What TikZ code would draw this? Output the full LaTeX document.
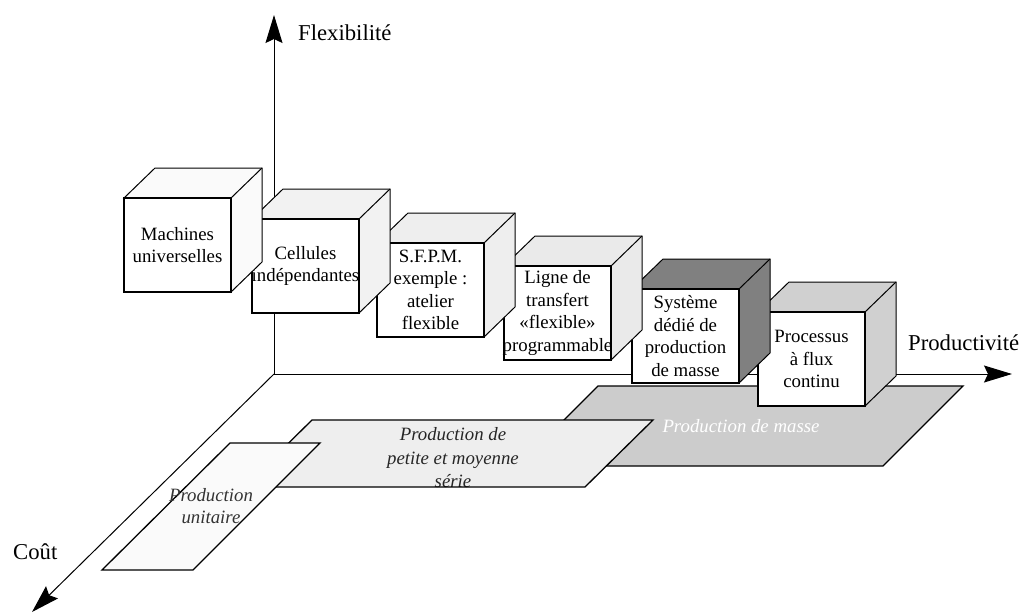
\documentclass[tikz,border=0pt]{standalone}
\usepackage{fontspec}
\setmainfont{Liberation Serif}
\usetikzlibrary{arrows.meta}

\definecolor{topA}{HTML}{FAFAFA}
\definecolor{topB}{HTML}{F2F2F2}
\definecolor{topC}{HTML}{EEEEEE}
\definecolor{topD}{HTML}{EAEAEA}
\definecolor{topE}{HTML}{808080}
\definecolor{topF}{HTML}{D0D0D0}
\definecolor{zoneA}{HTML}{FAFAFA}
\definecolor{zoneB}{HTML}{EEEEEE}
\definecolor{zoneC}{HTML}{CCCCCC}

% one box: front face top-left at (#2,#3), fill of top and side #4, text #5
\newcommand\drawbox[5]{%
  \coordinate (#1-nw) at (#2,#3);
  \coordinate (#1-ne) at (#2+107,#3);
  \coordinate (#1-se) at (#2+107,#3+94);
  \filldraw[face,fill=#4] (#1-nw) -- ++(31,-30) -- ++(107,0) -- ++(0,94)
     -- (#1-se) -- (#1-ne) -- cycle;
  \draw[face] (#1-ne) -- ++(31,-30);
  \node[front,anchor=north west] (#1) at (#1-nw) {};
  \node[boxtext] (#1-t) at (#1.center) {#5};
}

\begin{document}
\begin{tikzpicture}[x=1pt,y=-1pt,
  axis/.style={line width=1pt,-{Stealth[length=28pt,width=17pt,inset=4pt]}},
  face/.style={line width=1pt,line join=miter},
  front/.style={draw,fill=white,line width=2pt,minimum width=107pt,
    minimum height=94pt,inner sep=0pt,outer sep=0pt},
  boxtext/.style={align=center,inner sep=0pt,font=\fontsize{18.8}{22.5}\selectfont},
  zone/.style={line width=1.3pt,line join=miter},
  zonetext/.style={align=center,inner sep=0pt,font=\fontsize{18.8}{23.5}\selectfont\itshape},
  axislabel/.style={anchor=west,inner sep=0pt,font=\fontsize{22.7}{26}\selectfont}]

\useasboundingbox (0,0) rectangle (1021,614);

% axes
\coordinate (O) at (274,374);
\coordinate (flexTip) at (274,15);
\coordinate (prodTip) at (1012,374);
\coordinate (coutTip) at (32,612);
\draw[axis] (O) -- (flexTip);
\draw[axis] (O) -- (prodTip);
\draw[axis] (O) -- (coutTip);
\node[axislabel] (flex) at (298,33) {Flexibilité};
\node[axislabel] (prod) at (908,343) {Productivité};
\node[axislabel] (cout) at (13,552) {Coût};

% production zones
\fill[zoneC] (598,386) -- (963,386) -- (883,466) -- (518,466) -- cycle;
\begin{scope}
  \clip (598,386) -- (963,386) -- (883,466) -- (518,466) -- cycle;
  \node[zonetext,text=white] (masse) at (741,426) {Production de masse};
\end{scope}
\draw[zone] (598,386) -- (963,386) -- (883,466) -- (518,466) -- cycle;

\fill[zoneB] (312,420) -- (653,420) -- (585,487) -- (244,487) -- cycle;
\begin{scope}
  \clip (312,420) -- (653,420) -- (585,487) -- (244,487) -- cycle;
  \node[zonetext,text=black!85] (serie) at (453,458)
    {Production de\\petite et moyenne\\série};
\end{scope}
\draw[zone] (312,420) -- (653,420) -- (585,487) -- (244,487) -- cycle;

\fill[zoneA] (230,443) -- (320,443) -- (193,570) -- (102,570) -- cycle;
\draw[zone] (230,443) -- (320,443) -- (193,570) -- (102,570) -- cycle;
\node[zonetext,text=black!80,font=\fontsize{18.8}{22}\selectfont\itshape]
  (unit) at (211,506) {Production\\unitaire};

% production systems, back to front
\drawbox{b6}{758}{312}{topF}{Processus\\à flux\\continu}
\drawbox{b5}{632}{289}{topE}{Système\\dédié de\\production\\de masse}
\drawbox{b4}{504}{266}{topD}{Ligne de\\transfert\\«flexible»\\programmable}
\drawbox{b3}{377}{243}{topC}{S.F.P.M.\\exemple :\\atelier\\flexible}
\drawbox{b2}{252}{219}{topB}{Cellules\\indépendantes}
\drawbox{b1}{124}{198}{topA}{Machines\\universelles}

\end{tikzpicture}
\end{document}
